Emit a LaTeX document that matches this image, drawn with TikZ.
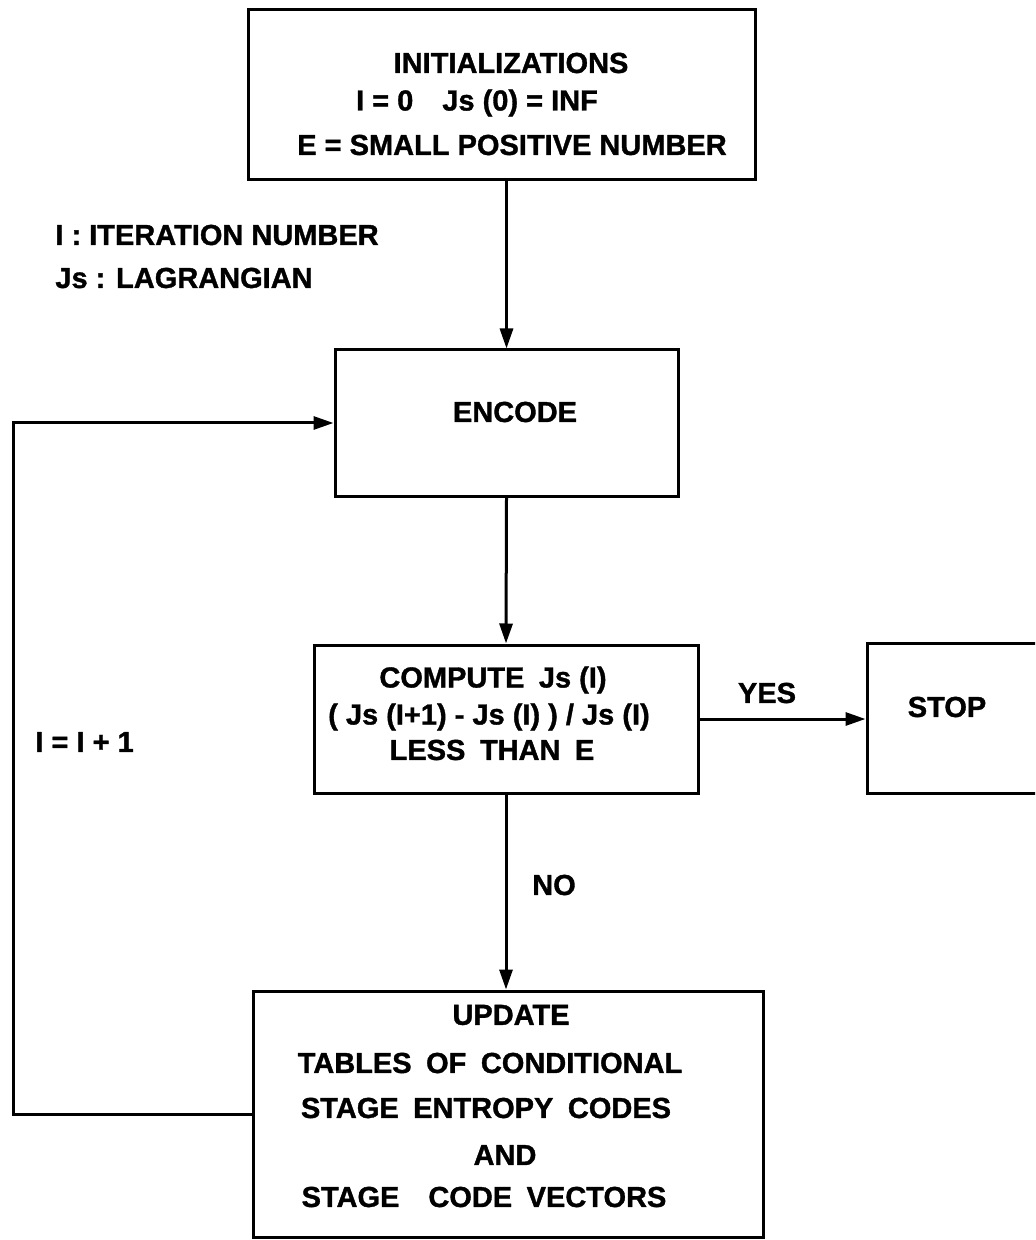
\documentclass[tikz,border=0pt]{standalone}
\usepackage{fontspec}
\setmainfont{Liberation Sans}[BoldFeatures={FakeBold=1.2}]
\usetikzlibrary{arrows.meta}
\begin{document}
\begin{tikzpicture}[x=0.5pt,y=-0.5pt,
  box/.style={draw=black,line width=1.5pt,rectangle,inner sep=0pt},
  txt/.style={font=\fontsize{14.5pt}{17pt}\selectfont\bfseries,inner sep=0pt},
  arr/.style={line width=1.5pt,-{Triangle[length=10pt,width=6.5pt]}},
  ln/.style={line width=1.5pt}]
\useasboundingbox (0,0) rectangle (1035,1240);
\clip (0,0) rectangle (1035,1240);
% boxes
\node[box,minimum width=507pt/2,minimum height=170pt/2] (init) at (501.5,95) {};
\node[box,minimum width=343pt/2,minimum height=146pt/2] (encode) at (506.5,423) {};
\node[box,minimum width=384pt/2,minimum height=148pt/2] (compute) at (506,719) {};
\node[box,minimum width=178pt/2,minimum height=150pt/2] (stop) at (956,718) {};
\node[box,minimum width=510pt/2,minimum height=246pt/2] (update) at (508,1114) {};
% texts
\node[txt] (t1) at (511,63) {INITIALIZATIONS};
\node[txt] (t2) at (477,103) {I = 0\quad Js (0) = INF};
\node[txt] (t3) at (512,145) {E = SMALL POSITIVE NUMBER};
\node[txt,anchor=west] (l1) at (55,235) {I : ITERATION NUMBER};
\node[txt,anchor=west] (l2) at (55,278) {Js : LAGRANGIAN};
\node[txt] (te) at (515,412) {ENCODE};
\node[txt] (c1) at (493,680) {COMPUTE\enspace Js (I)};
\node[txt] (c2) at (489,717) {( Js (I+1) - Js (I) ) / Js (I)};
\node[txt] (c3) at (492,750) {LESS\enspace THAN\enspace E};
\node[txt] (yes) at (767,693) {YES};
\node[txt] (ts) at (947,707) {STOP};
\node[txt,anchor=west] (inc) at (35,742) {I = I + 1};
\node[txt] (no) at (554,885) {NO};
\node[txt] (u1) at (511,1015) {UPDATE};
\node[txt] (u2) at (490,1063) {TABLES\enspace OF\enspace CONDITIONAL};
\node[txt] (u3) at (486,1108) {STAGE\enspace ENTROPY\enspace CODES};
\node[txt] (u4) at (505,1155) {AND};
\node[txt] (u5) at (484,1197) {STAGE\quad CODE\enspace VECTORS};
% connectors
\draw[arr] (init.south -| encode.north) -- (encode.north);
\draw[arr] (encode.south) -- (compute.north);
\draw[arr] (compute.east) -- (compute.east -| stop.west);
\draw[arr] (compute.south) -- (compute.south |- update.north);
\coordinate (fbl) at (13,1114);
\draw[arr] (update.west) -- (fbl) |- (encode.west);
\end{tikzpicture}
\end{document}
